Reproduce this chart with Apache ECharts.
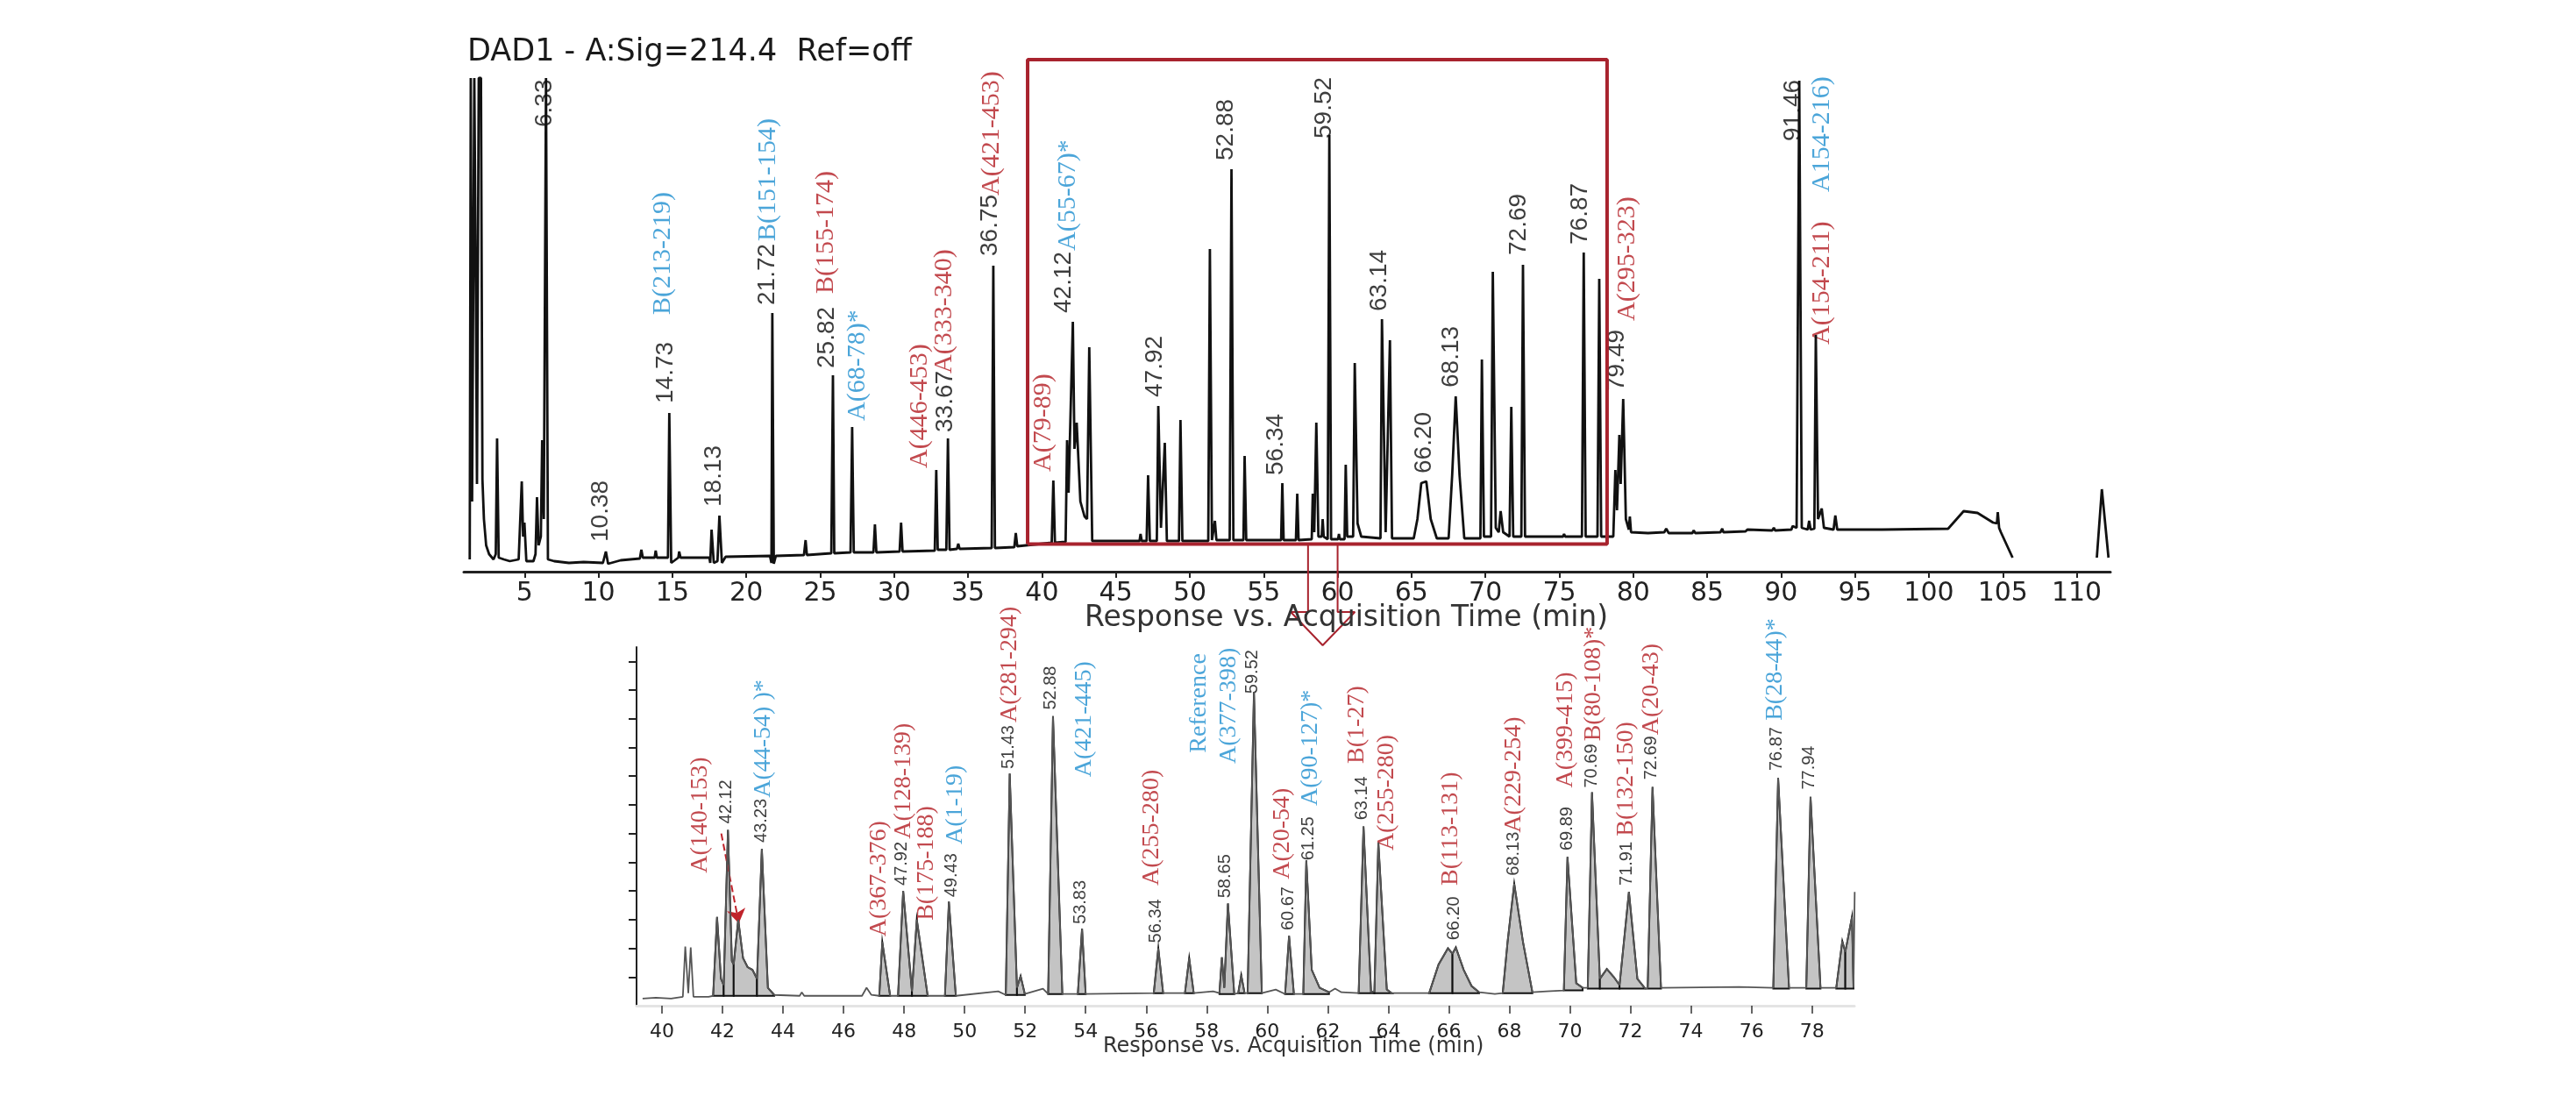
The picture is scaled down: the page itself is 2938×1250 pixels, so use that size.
<!DOCTYPE html>
<html>
<head>
<meta charset="utf-8">
<script src="https://cdn.jsdelivr.net/npm/echarts@6.0.0/dist/echarts.min.js"></script>
<style>
html, body { margin: 0; padding: 0; background: #fff; }
#chart { width: 2938px; height: 1250px; }
</style>
</head>
<body>
<div id="chart"></div>
<script>
// tick values
var topTicks = [5, 10, 15, 20, 25, 30, 35, 40, 45, 50, 55, 60, 65, 70, 75, 80, 85, 90, 95, 100, 105, 110];
var bottomTicks = [40, 42, 44, 46, 48, 50, 52, 54, 56, 58, 60, 62, 64, 66, 68, 70, 72, 74, 76, 78];
var bottomYTicks = [32, 64, 96, 128, 160, 192, 224, 256, 288, 320, 352, 384];

// full run, [time (min), response]
var topTrace = [
    [1.29, 14], [1.36, 563], [1.45, 80], [1.6, 563], [1.7, 330], [1.78, 100], [1.9, 563], [2.05, 563],
    [2.15, 105], [2.25, 60], [2.4, 30], [2.6, 20], [2.9, 14], [3.05, 20], [3.14, 152], [3.25, 16],
    [3.6, 14], [4.0, 12], [4.6, 14], [4.81, 103], [4.9, 40], [4.99, 56], [5.12, 12], [5.6, 12],
    [5.74, 20], [5.84, 85], [5.95, 30], [6.1, 40], [6.19, 150], [6.3, 60], [6.45, 563], [6.58, 14],
    [7.0, 12], [8.0, 10], [9.0, 11], [10.3, 10], [10.5, 23], [10.65, 9], [11.5, 13], [12.8, 15],
    [12.9, 25], [13.0, 16], [13.8, 16], [13.87, 24], [13.95, 16], [14.7, 16], [14.79, 181], [14.92, 10],
    [15.4, 16], [15.46, 23], [15.55, 16], [17.5, 16], [17.56, 10], [17.65, 48], [17.8, 10], [18.05, 12],
    [18.18, 64], [18.35, 10], [18.6, 17], [21.6, 18], [21.7, 10], [21.76, 295], [21.86, 9], [22.0, 18],
    [23.9, 19], [24.01, 36], [24.1, 19], [25.75, 21], [25.86, 224], [25.95, 21], [27.05, 22], [27.16, 165],
    [27.27, 22], [28.6, 22], [28.7, 54], [28.8, 22], [30.37, 23], [30.47, 56], [30.57, 23], [32.75, 24],
    [32.85, 116], [32.95, 25], [33.53, 25], [33.64, 152], [33.75, 25], [34.25, 26], [34.34, 32], [34.43, 26],
    [36.6, 27], [36.71, 349], [36.82, 27], [38.13, 28], [38.23, 44], [38.33, 29], [40.66, 33], [40.77, 104],
    [40.88, 33], [41.6, 34], [41.7, 150], [41.8, 90], [42.09, 285], [42.2, 140], [42.35, 170], [42.6, 80],
    [42.88, 63], [43.05, 60], [43.2, 256], [43.4, 35], [46.6, 35], [46.67, 43], [46.75, 35], [47.08, 35],
    [47.18, 110], [47.3, 35], [47.77, 35], [47.87, 189], [48.05, 50], [48.31, 147], [48.45, 35], [49.27, 35],
    [49.37, 173], [49.5, 35], [51.25, 35], [51.36, 368], [51.5, 36], [51.6, 36], [51.7, 58], [51.8, 36],
    [52.7, 36], [52.82, 459], [52.95, 36], [53.63, 36], [53.71, 132], [53.82, 36], [56.18, 36], [56.26, 101],
    [56.35, 36], [57.18, 36], [57.27, 89], [57.36, 36], [58.25, 37], [58.32, 89], [58.42, 45], [58.56, 170],
    [58.7, 40], [58.92, 40], [58.99, 60], [59.06, 40], [59.33, 37], [59.44, 498], [59.56, 37], [60.03, 37],
    [60.09, 43], [60.15, 37], [60.47, 37], [60.55, 122], [60.65, 40], [61.05, 40], [61.16, 238], [61.35, 55],
    [61.6, 40], [62.9, 38], [63.0, 288], [63.25, 45], [63.54, 264], [63.68, 38], [65.15, 38], [65.4, 60],
    [65.66, 101], [66.0, 103], [66.3, 60], [66.71, 38], [67.51, 38], [67.75, 110], [67.99, 200], [68.25, 110],
    [68.57, 38], [69.66, 38], [69.76, 242], [69.9, 40], [70.38, 40], [70.5, 342], [70.7, 50], [70.9, 45],
    [71.03, 69], [71.2, 45], [71.63, 40], [71.75, 188], [71.88, 40], [72.43, 40], [72.54, 350], [72.68, 40],
    [75.25, 40], [75.32, 43], [75.4, 40], [76.53, 40], [76.65, 364], [76.78, 40], [77.58, 40], [77.7, 334],
    [77.83, 40], [78.65, 40], [78.79, 116], [78.9, 70], [79.06, 156], [79.15, 100], [79.32, 197], [79.5, 60],
    [79.7, 48], [79.77, 63], [79.85, 45], [81.0, 44], [82.1, 45], [82.23, 49], [82.4, 44], [84.0, 44],
    [84.09, 47], [84.2, 44], [85.9, 45], [86.02, 49], [86.1, 45], [87.6, 46], [87.72, 48], [87.8, 46],
    [89.4, 47], [89.51, 50], [89.6, 47], [90.7, 48], [90.78, 52], [91.05, 50], [91.23, 560], [91.4, 50],
    [91.8, 48], [91.9, 58], [92.0, 48], [92.25, 49], [92.35, 270], [92.5, 60], [92.75, 72], [92.9, 50],
    [93.55, 48], [93.67, 64], [93.8, 48], [96.65, 48], [96.74, 50], [96.85, 48], [101.3, 49], [102.35, 69],
    [103.29, 67], [104.34, 56], [104.6, 55], [104.66, 68], [104.75, 50], [104.87, 45], [105.66, 16],
    [108, null], [111.36, 16], [111.7, 94], [112.15, 16]
];

// enlarged 40-79 min window, [time (min), response]
var bottomTrace = [
    [39.36, 8], [39.8, 9], [40.3, 8], [40.69, 10], [40.77, 66], [40.87, 14], [40.95, 65], [41.04, 10],
    [41.54, 10], [41.69, 11], [41.82, 99], [41.95, 30], [42.04, 23], [42.18, 196], [42.31, 50], [42.37, 46],
    [42.52, 96], [42.68, 53], [42.83, 43], [42.99, 40], [43.14, 30], [43.3, 175], [43.5, 20], [43.71, 12],
    [44.55, 11], [44.62, 15], [44.7, 11], [46.61, 11], [46.76, 20], [46.92, 12], [47.18, 11], [47.28, 71],
    [47.54, 11], [47.8, 11], [47.97, 128], [48.26, 16], [48.42, 96], [48.78, 11], [49.35, 11], [49.48, 116],
    [49.71, 11], [51.11, 16], [51.36, 12], [51.49, 259], [51.73, 20], [51.85, 33], [51.99, 13], [52.59, 19],
    [52.76, 13], [52.92, 323], [53.23, 13], [53.74, 13], [53.88, 86], [54.0, 13], [56.25, 14], [56.4, 64],
    [56.56, 14], [57.28, 14], [57.42, 53], [57.57, 14], [58.21, 16], [58.42, 14], [58.5, 54], [58.58, 20],
    [58.7, 114], [58.91, 13], [59.04, 14], [59.14, 34], [59.25, 14], [59.35, 14], [59.56, 350], [59.82, 14],
    [60.28, 18], [60.59, 13], [60.72, 78], [60.88, 13], [61.19, 13], [61.29, 162], [61.47, 40], [61.73, 20],
    [62.04, 15], [62.24, 19], [62.45, 15], [63.02, 14], [63.18, 200], [63.43, 15], [63.54, 16], [63.67, 182],
    [63.95, 18], [64.11, 14], [65.35, 14], [65.66, 46], [65.97, 64], [66.12, 58], [66.23, 65], [66.49, 40],
    [66.75, 22], [67.0, 15], [67.52, 13], [67.78, 14], [67.94, 71], [68.16, 136], [68.45, 71], [68.76, 15],
    [69.23, 16], [69.8, 17], [69.92, 166], [70.21, 25], [70.42, 20], [70.59, 20], [70.73, 238], [70.99, 30],
    [71.22, 41], [71.45, 32], [71.64, 23], [71.95, 127], [72.23, 30], [72.49, 19], [72.57, 20], [72.73, 244],
    [73.01, 20], [75.59, 21], [76.72, 20], [76.88, 254], [77.24, 20], [77.81, 20], [77.95, 233], [78.28, 20],
    [78.8, 20], [79.0, 72], [79.1, 60], [79.32, 99], [79.37, 20], [79.41, 127]
];

// shaded (integrated) peaks in the window: [from, to, baseline]
var bottomFills = [
    [41.69, 42.04, 11], [42.04, 42.37, 11], [42.37, 43.14, 11], [43.14, 43.71, 11],
    [47.18, 47.54, 11], [47.8, 48.26, 11], [48.26, 48.78, 11], [49.35, 49.71, 11],
    [51.36, 51.73, 12], [51.73, 51.99, 12], [52.76, 53.23, 13], [53.74, 54.0, 13],
    [56.25, 56.56, 14], [57.28, 57.57, 14], [58.42, 58.91, 13], [59.04, 59.25, 14], [59.35, 59.82, 14],
    [60.59, 60.88, 13], [61.19, 62.04, 13], [63.02, 63.54, 14], [63.54, 64.11, 14],
    [65.35, 66.12, 14], [66.12, 67.0, 14], [67.78, 68.76, 14],
    [69.8, 70.42, 17], [70.59, 70.99, 19], [70.99, 71.64, 19], [71.64, 72.49, 19], [72.57, 73.01, 19],
    [76.72, 77.24, 19], [77.81, 78.28, 19], [78.8, 79.1, 19], [79.1, 79.37, 19]
];

// peak annotations: [time, response where text starts, text, colour]
var topLabels = [
    [6.37, 507, '6.33', 'k'], [10.14, 34, '10.38', 'k'], [14.34, 293, 'B(213-219)', 'b'],
    [14.53, 192, '14.73', 'k'], [17.83, 74, '18.13', 'k'], [21.45, 304, '21.72', 'k'],
    [21.45, 377, 'B(151-154)', 'b'], [25.45, 232, '25.82', 'k'], [25.39, 317, 'B(155-174)', 'r'],
    [27.5, 172, 'A(68-78)*', 'b'], [31.73, 118, 'A(446-453)', 'r'], [33.45, 159, '33.67', 'k'],
    [33.4, 226, 'A(333-340)', 'r'], [36.5, 360, '36.75', 'k'], [36.6, 429, 'A(421-453)', 'r'],
    [40.1, 114, 'A(79-89)', 'r'], [41.48, 295, '42.12', 'k'], [41.75, 366, 'A(55-67)*', 'b'],
    [47.65, 199, '47.92', 'k'], [52.47, 469, '52.88', 'k'], [55.86, 110, '56.34', 'k'],
    [59.12, 494, '59.52', 'k'], [62.82, 297, '63.14', 'k'], [65.84, 112, '66.20', 'k'],
    [67.72, 210, '68.13', 'k'], [72.28, 361, '72.69', 'k'], [76.44, 373, '76.87', 'k'],
    [78.92, 206, '79.49', 'k'], [79.59, 286, 'A(295-323)', 'r'], [90.85, 491, '91.46', 'k'],
    [92.75, 433, 'A154-216)', 'b'], [92.75, 259, 'A(154-211)', 'r']
];
var bottomLabels = [
    [41.25, 148, 'A(140-153)', 'r'], [42.13, 203, '42.12', 'k'], [43.3, 182, '43.23', 'k'],
    [43.35, 232, 'A(44-54) )*', 'b'], [47.18, 77, 'A(367-376)', 'r'], [47.93, 134, '47.92', 'k'],
    [48.0, 186, 'A(128-139)', 'r'], [48.73, 95, 'B(175-188)', 'r'], [49.56, 121, '49.43', 'k'],
    [49.7, 180, 'A(1-19)', 'b'], [51.45, 264, '51.43', 'k'], [51.49, 316, 'A(281-294)', 'r'],
    [52.86, 330, '52.88', 'k'], [53.95, 255, 'A(421-445)', 'b'], [53.84, 91, '53.83', 'k'],
    [56.19, 134, 'A(255-280)', 'r'], [56.33, 70, '56.34', 'k'], [57.75, 282, 'Reference', 'b'],
    [58.73, 270, 'A(377-398)', 'b'], [58.62, 120, '58.65', 'k'], [59.5, 348, '59.52', 'k'],
    [60.49, 141, 'A(20-54)', 'r'], [60.7, 84, '60.67', 'k'], [61.37, 162, '61.25', 'k'],
    [61.42, 223, 'A(90-127)*', 'b'], [62.97, 270, 'B(1-27)', 'r'], [63.12, 207, '63.14', 'k'],
    [63.95, 173, 'A(255-280)', 'r'], [66.07, 134, 'B(113-131)', 'r'], [66.18, 73, '66.20', 'k'],
    [68.14, 145, '68.13', 'k'], [68.16, 193, 'A(229-254)', 'r'], [69.85, 243, 'A(399-415)', 'r'],
    [69.9, 173, '69.89', 'k'], [70.73, 243, '70.69', 'k'], [70.78, 295, 'B(80-108)*', 'r'],
    [71.87, 134, '71.91', 'k'], [71.87, 189, 'B(132-150)', 'r'], [72.69, 252, '72.69', 'k'],
    [72.69, 302, 'A(20-43)', 'r'], [76.83, 262, '76.87', 'k'], [76.78, 318, 'B(28-44)*', 'b'],
    [77.92, 241, '77.94', 'k']
];

// zoom box, arrow down to the enlarged window, and the dashed pointer
var zoomBox = [[39.03, 31.5], [78.23, 31.5], [78.23, 584], [39.03, 584], [39.03, 31.5]];
var zoomArrow = [[58.0, 31.5], [58.0, -46], [56.83, -46], [58.99, -84], [61.17, -46], [60.0, -46], [60.0, 31.5]];
var pointer = [[41.96, 192], [42.54, 92]];

var colours = {k: '#0d0d0d', r: '#b31b22', b: '#1e8fd0'};
var red = '#a8232e';
var numFont = "'Liberation Sans Narrow', 'Liberation Sans', Arial, sans-serif";
var nameFont = "'Liberation Serif', 'Times New Roman', serif";

function labelData(list, numSize, nameSize) {
    return list.map(function (d) {
        var isNum = d[3] === 'k';
        return {
            name: d[2],
            value: [d[0], d[1]],
            label: {
                color: colours[d[3]],
                fontFamily: isNum ? numFont : nameFont,
                fontSize: isNum ? numSize : nameSize
            }
        };
    });
}

var rotLabel = {
    show: true,
    formatter: '{b}',
    rotate: 90,
    position: 'inside',
    align: 'left',
    verticalAlign: 'middle'
};

var option = {
    animation: false,
    backgroundColor: '#fff',
    title: [
        {
            text: 'DAD1 - A:Sig=214.4  Ref=off', left: 533, top: 42, padding: 0,
            textStyle: {fontFamily: 'DejaVu Sans', fontSize: 35, fontWeight: 'normal', color: '#1a1a1a'}
        },
        {
            text: 'Response vs. Acquisition Time (min)', left: 1237, top: 689, padding: 0,
            textStyle: {fontFamily: 'DejaVu Sans', fontSize: 33, fontWeight: 'normal', color: '#333'}
        },
        {
            text: 'Response vs. Acquisition Time (min)', left: 1258, top: 1182, padding: 0,
            textStyle: {fontFamily: 'DejaVu Sans', fontSize: 24, fontWeight: 'normal', color: '#333'}
        }
    ],
    grid: [
        {left: 529, top: 60, width: 1878, height: 592, outerBoundsMode: 'none'},
        {left: 726, top: 738, width: 1389, height: 409, outerBoundsMode: 'none'}
    ],
    xAxis: [
        {
            gridIndex: 0, type: 'value', min: 0.89, max: 112.28,
            axisLine: {show: true, lineStyle: {color: '#222', width: 3}},
            axisTick: {show: true, length: 7, lineStyle: {color: '#222', width: 2}, customValues: topTicks},
            axisLabel: {
                customValues: topTicks, margin: 10, fontSize: 30,
                fontFamily: 'DejaVu Sans', color: '#222'
            },
            splitLine: {show: false}
        },
        {
            gridIndex: 1, type: 'value', min: 39.16, max: 79.4, offset: 5,
            axisLine: {show: true, lineStyle: {color: '#e4e4e4', width: 3}},
            axisTick: {show: true, length: 9, lineStyle: {color: '#333', width: 1.5}, customValues: bottomTicks},
            axisLabel: {
                customValues: bottomTicks, margin: 14, fontSize: 22,
                fontFamily: 'DejaVu Sans', color: '#222'
            },
            splitLine: {show: false}
        }
    ],
    yAxis: [
        {gridIndex: 0, type: 'value', min: 0, max: 592, show: false},
        {
            gridIndex: 1, type: 'value', min: 0, max: 400, interval: 32,
            axisLine: {show: true, lineStyle: {color: '#222', width: 2}},
            axisTick: {show: true, length: 9, lineStyle: {color: '#222', width: 2}, customValues: bottomYTicks},
            axisLabel: {show: false},
            splitLine: {show: false}
        }
    ],
    series: [
        {
            type: 'line', xAxisIndex: 0, yAxisIndex: 0, data: topTrace,
            symbol: 'none', connectNulls: false,
            lineStyle: {color: '#111', width: 2.8}
        },
        {
            type: 'line', xAxisIndex: 0, yAxisIndex: 0, data: zoomBox, clip: false,
            symbol: 'none', lineStyle: {color: red, width: 4}
        },
        {
            type: 'line', xAxisIndex: 0, yAxisIndex: 0, data: zoomArrow, clip: false,
            symbol: 'none', lineStyle: {color: red, width: 2}
        },
        {
            type: 'line', xAxisIndex: 1, yAxisIndex: 1, data: bottomTrace,
            symbol: 'none', lineStyle: {color: '#555', width: 1.8}
        },
        {
            type: 'custom', xAxisIndex: 1, yAxisIndex: 1,
            data: bottomFills.map(function (f) { return [f[0], f[2], f[1]]; }),
            encode: {x: [0, 2], y: 1},
            renderItem: function (params, api) {
                var f = bottomFills[params.dataIndex];
                var pts = [];
                bottomTrace.forEach(function (p) {
                    if (p[0] >= f[0] && p[0] <= f[1]) pts.push(api.coord(p));
                });
                pts.push(api.coord([f[1], f[2]]));
                pts.push(api.coord([f[0], f[2]]));
                return {
                    type: 'polygon',
                    shape: {points: pts},
                    style: {fill: '#c4c4c4', stroke: '#111', lineWidth: 2}
                };
            }
        },
        {
            type: 'lines', coordinateSystem: 'cartesian2d', xAxisIndex: 1, yAxisIndex: 1,
            symbol: ['none', 'arrow'], symbolSize: 16,
            lineStyle: {color: '#c0232b', width: 2, type: 'dashed', opacity: 1},
            data: [{coords: pointer}]
        },
        {
            type: 'scatter', xAxisIndex: 0, yAxisIndex: 0, symbolSize: 1, silent: true,
            itemStyle: {color: 'rgba(0,0,0,0)'},
            label: rotLabel,
            data: labelData(topLabels, 28, 30)
        },
        {
            type: 'scatter', xAxisIndex: 1, yAxisIndex: 1, symbolSize: 1, silent: true,
            itemStyle: {color: 'rgba(0,0,0,0)'},
            label: rotLabel,
            data: labelData(bottomLabels, 20, 28)
        }
    ]
};

var myChart = echarts.init(document.getElementById('chart'));
myChart.setOption(option);
</script>
</body>
</html>
